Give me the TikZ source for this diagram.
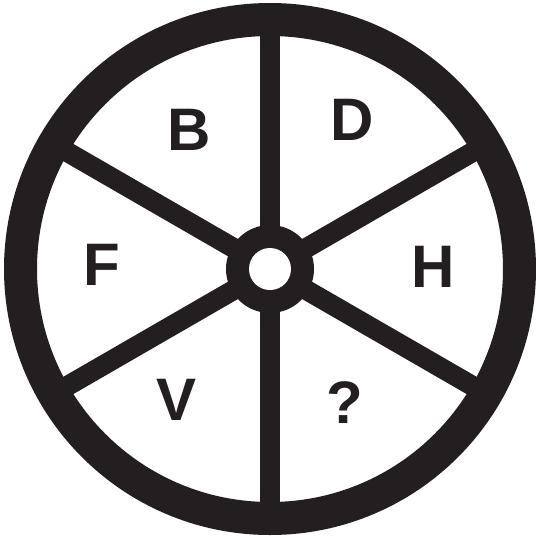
\documentclass[tikz,border=0pt]{standalone}
\usepackage{fontspec}
\setmainfont{Liberation Sans}
\definecolor{wheelblack}{HTML}{231F20}

\begin{document}
\begin{tikzpicture}[x=1pt, y=-1pt,
  spoke/.style={draw=wheelblack, line width=20pt},
  letter/.style={font=\fontsize{60}{60}\selectfont\bfseries, text=wheelblack, inner sep=0pt}]
  \useasboundingbox (0,0) rectangle (536,539);
  \coordinate (hub) at (270,269);
  % rim
  \fill[wheelblack, even odd rule] (hub) circle (266) (hub) circle (233);
  % spokes
  \foreach \a in {30,90,...,330}
    \draw[spoke] (hub) -- ++(\a:250);
  % hub
  \fill[wheelblack] (hub) circle (44);
  \fill[white] (hub) circle (21);
  % letters
  \node[letter] (b) at (189,129.5) {B};
  \node[letter] (d) at (352.5,120) {D};
  \node[letter] (f) at (101.5,265) {F};
  \node[letter] (h) at (433,266.5) {H};
  \node[letter] (v) at (176.5,399.5) {V};
  \node[letter] (q) at (345,402.5) {?};
\end{tikzpicture}
\end{document}
